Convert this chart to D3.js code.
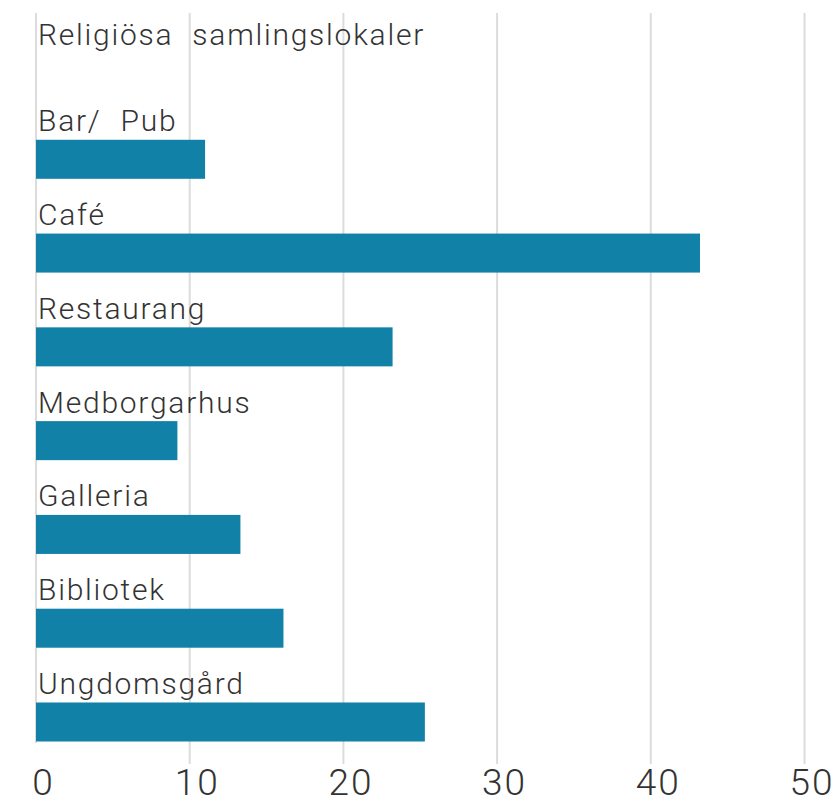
<!DOCTYPE html>
<html>
<head>
    <meta charset="utf-8">
    <title>Samlingslokaler</title>
    <script src="https://cdn.jsdelivr.net/npm/d3@7"></script>
    <style>
        body { margin: 0; background: #fff; }
        text { font-family: Roboto, "Liberation Sans", sans-serif; font-weight: 300; fill: #333; }
    </style>
</head>
<body>
    <svg id="chart" width="840" height="803"></svg>

    <script type="text/javascript">
        var categories = ["Religiösa samlingslokaler", "Bar/ Pub", "Café", "Restaurang", "Medborgarhus", "Galleria", "Bibliotek", "Ungdomsgård"];
        var values = [0, 11, 43.2, 23.2, 9.2, 13.3, 16.1, 25.3];
        var tickValues = [0, 10, 20, 30, 40, 50];

        var data = categories.map(function(c, i) { return { name: c, value: values[i] }; });

        var svg = d3.select("#chart");

        var x = d3.scaleLinear().domain([0, 50]).range([36, 804.5]);
        var y = d3.scaleBand().domain(categories).range([46, 741.5]).paddingInner(0.584).paddingOuter(0);

        // grid lines (the zero line stops at the last bar)
        svg.append("g").selectAll("line")
            .data(tickValues)
            .enter()
            .append("line")
            .attr("x1", function(d) { return x(d); })
            .attr("x2", function(d) { return x(d); })
            .attr("y1", 13)
            .attr("y2", function(d) { return d == 0 ? 743 : 764; })
            .style("stroke", "#dcdcdc")
            .style("stroke-width", 2);

        // bars
        svg.append("g").selectAll("rect")
            .data(data)
            .enter()
            .append("rect")
            .attr("x", x(0))
            .attr("y", function(d) { return y(d.name); })
            .attr("width", function(d) { return x(d.value) - x(0); })
            .attr("height", y.bandwidth())
            .style("fill", "#1181a7");

        // category labels above each bar, top one kept inside the frame
        svg.append("g").selectAll("text")
            .data(data)
            .enter()
            .append("text")
            .attr("x", 38)
            .attr("y", function(d) { return Math.max(y(d.name) - 8.5, 45); })
            .style("font-size", "30px")
            .style("letter-spacing", "1.75px")
            .style("word-spacing", "10px")
            .style("white-space", "pre")
            .text(function(d) { return d.name; });

        // x axis labels
        var axis = svg.append("g")
            .attr("transform", "translate(7,768)")
            .call(d3.axisBottom(x).tickValues(tickValues).tickSize(0).tickPadding(0));
        axis.select(".domain").remove();
        axis.selectAll("text")
            .attr("dy", "0.72em")
            .style("font-size", "37px")
            .style("letter-spacing", "2px")
            .style("font-family", "Roboto, 'Liberation Sans', sans-serif")
            .style("font-weight", 300)
            .style("fill", "#333");
    </script>
</body>
</html>
